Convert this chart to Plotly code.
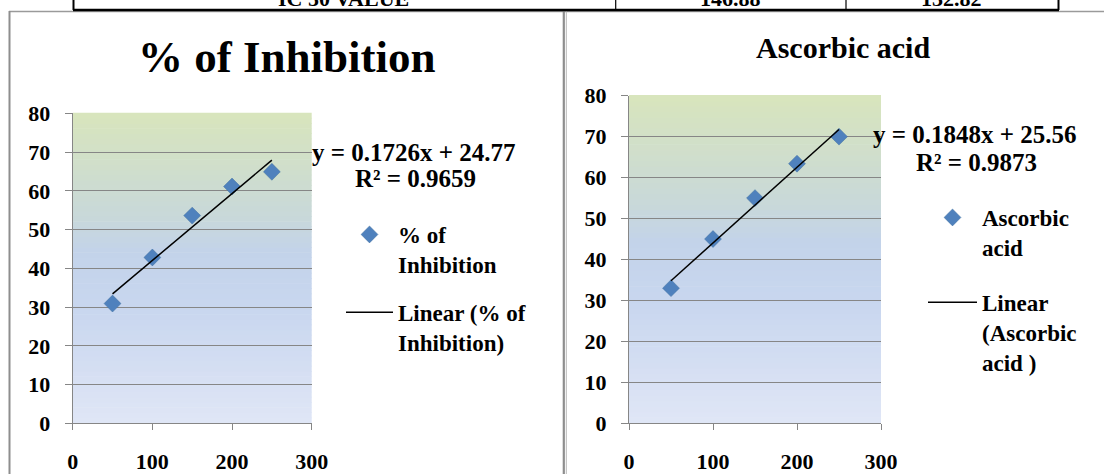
import plotly.graph_objects as go

W, H = 1104, 474

# ---------------- data ----------------
concentration = [50, 100, 150, 200, 250]
inhibition = [30.9, 42.8, 53.6, 61.1, 64.9]
ascorbic_acid = [33.0, 45.0, 55.0, 63.4, 70.0]

inh_slope, inh_intercept, inh_r2 = 0.1726, 24.77, 0.9659
asc_slope, asc_intercept, asc_r2 = 0.1848, 25.56, 0.9873

x_ticks = [0, 100, 200, 300]
y_ticks = [0, 10, 20, 30, 40, 50, 60, 70, 80]

table_labels = ["IC 50 VALUE", "146.88", "132.82"]

# ---------------- styling ----------------
SERIF = "Liberation Serif, Times New Roman, serif"
BLUE = "#4f81bd"
GRID = "#868686"


def px(x):
    return x / W


def py(y):
    return 1 - y / H


fig = go.Figure()

marker = dict(symbol="diamond", size=13, color=BLUE, line=dict(color="#41709f", width=0.5))

fig.add_trace(go.Scatter(
    x=concentration, y=inhibition, mode="markers", name="% of<br>Inhibition",
    marker=marker, xaxis="x", yaxis="y", legend="legend", legendgroup="a"))
fig.add_trace(go.Scatter(
    x=[concentration[0], concentration[-1]],
    y=[inh_slope * concentration[0] + inh_intercept, inh_slope * concentration[-1] + inh_intercept],
    mode="lines", name="Linear (% of<br>Inhibition)", line=dict(color="black", width=1.5),
    xaxis="x", yaxis="y", legend="legend", legendgroup="b"))

fig.add_trace(go.Scatter(
    x=concentration, y=ascorbic_acid, mode="markers", name="Ascorbic<br>acid",
    marker=marker, xaxis="x2", yaxis="y2", legend="legend2", legendgroup="c"))
fig.add_trace(go.Scatter(
    x=[concentration[0], concentration[-1]],
    y=[asc_slope * concentration[0] + asc_intercept, asc_slope * concentration[-1] + asc_intercept],
    mode="lines", name="Linear<br>(Ascorbic<br>acid )", line=dict(color="black", width=1.5),
    xaxis="x2", yaxis="y2", legend="legend2", legendgroup="d"))

tickfont = dict(family=SERIF, size=22, color="black", weight="bold")

axis_x = dict(range=[0, 300], tickvals=x_ticks, showgrid=False, zeroline=False, automargin=False,
              showline=True, linecolor=GRID, linewidth=1, ticks="outside", ticklen=6,
              tickcolor=GRID, tickfont=tickfont, ticklabelstandoff=12, fixedrange=True)
axis_y = dict(range=[0, 80], tickvals=y_ticks, showgrid=True, gridcolor=GRID, gridwidth=1,
              zeroline=False, showline=True, linecolor=GRID, linewidth=1, ticks="outside",
              automargin=False, ticklen=7, tickcolor=GRID, tickfont=tickfont,
              ticklabelstandoff=10, fixedrange=True)

legfont = dict(family=SERIF, size=23, color="black", weight="bold")

fig.update_layout(
    template="none",
    width=W, height=H, margin=dict(l=0, r=0, t=0, b=0, autoexpand=False),
    paper_bgcolor="white", plot_bgcolor="rgba(0,0,0,0)",
    xaxis=dict(axis_x, domain=[px(72.7), px(311.7)], anchor="y"),
    yaxis=dict(axis_y, domain=[py(423.3), py(113.3)], anchor="x"),
    xaxis2=dict(axis_x, domain=[px(629), px(881)], anchor="y2"),
    yaxis2=dict(axis_y, domain=[py(423.3), py(95.7)], anchor="x2"),
    legend=dict(x=px(341), y=py(213), xanchor="left", yanchor="top", font=legfont,
                bgcolor="rgba(0,0,0,0)", valign="top", tracegroupgap=15, itemwidth=47),
    legend2=dict(x=px(923), y=py(196), xanchor="left", yanchor="top", font=legfont,
                 bgcolor="rgba(0,0,0,0)", valign="top", tracegroupgap=22, itemwidth=49),
    showlegend=True,
)

# ---------------- gradient plot backgrounds ----------------
stops = [(0.0, (224, 230, 246)), (0.35, (201, 215, 239)), (0.55, (195, 211, 234)),
         (0.66, (200, 216, 218)), (1.0, (216, 229, 188))]


def grad(t):
    for (t0, c0), (t1, c1) in zip(stops[:-1], stops[1:]):
        if t0 <= t <= t1:
            f = (t - t0) / (t1 - t0)
            return "rgb(%d,%d,%d)" % tuple(round(a + (b - a) * f) for a, b in zip(c0, c1))
    return "rgb(%d,%d,%d)" % stops[-1][1]


N = 60
shapes = []
for xr, yr in (("x domain", "y domain"), ("x2 domain", "y2 domain")):
    for i in range(N):
        shapes.append(dict(type="rect", xref=xr, yref=yr, x0=0, x1=1, y0=i / N, y1=(i + 1) / N + 0.002,
                           fillcolor=grad((i + 0.5) / N), line=dict(width=0), layer="below"))


# ---------------- document frame (table row + chart boxes) ----------------
def line(x0, y0, x1, y1, color, width):
    shapes.append(dict(type="line", xref="paper", yref="paper", x0=px(x0), y0=py(y0),
                       x1=px(x1), y1=py(y1), line=dict(color=color, width=width)))


line(9, 11.5, 1104, 11.5, "#9a9a9a", 1.5)
line(9.5, 11, 9.5, 474, "#8e8e8e", 2)
line(563.8, 11, 563.8, 474, "#8e8e8e", 2.2)
line(566.3, 11, 566.3, 474, "#b8b8b8", 1)
line(73, 10, 1059, 10, "black", 2.5)
line(73.5, 0, 73.5, 10, "black", 2)
line(615.7, 0, 615.7, 10, "black", 1.2)
line(846, 0, 846, 10, "black", 1.2)
line(1058.5, 0, 1058.5, 10, "black", 2)

fig.update_layout(shapes=shapes)

# ---------------- text ----------------
ann = []
for label, cx in zip(table_labels, (343, 730, 951)):
    ann.append(dict(text=label, x=px(cx), y=py(12), xref="paper", yref="paper",
                    xanchor="center", yanchor="bottom", showarrow=False, borderpad=0,
                    font=dict(family=SERIF, size=22, color="black", weight="bold")))

ann.append(dict(text="% of Inhibition", x=px(287), y=py(57), xref="paper", yref="paper",
                xanchor="center", yanchor="middle", showarrow=False,
                font=dict(family=SERIF, size=45, color="black", weight="bold")))
ann.append(dict(text="Ascorbic acid", x=px(843), y=py(48), xref="paper", yref="paper",
                xanchor="center", yanchor="middle", showarrow=False,
                font=dict(family=SERIF, size=30, color="black", weight="bold")))

eqfont = dict(family=SERIF, size=25, color="black", weight="bold")
ann.append(dict(text="y = %.4fx + %.2f" % (inh_slope, inh_intercept), x=px(414), y=py(152),
                xref="paper", yref="paper", xanchor="center", yanchor="middle", showarrow=False, font=eqfont))
ann.append(dict(text="R² = %.4f" % inh_r2, x=px(415), y=py(178),
                xref="paper", yref="paper", xanchor="center", yanchor="middle", showarrow=False, font=eqfont))
ann.append(dict(text="y = %.4fx + %.2f" % (asc_slope, asc_intercept), x=px(975), y=py(135),
                xref="paper", yref="paper", xanchor="center", yanchor="middle", showarrow=False, font=eqfont))
ann.append(dict(text="R² = %.4f" % asc_r2, x=px(976), y=py(162),
                xref="paper", yref="paper", xanchor="center", yanchor="middle", showarrow=False, font=eqfont))

fig.update_layout(annotations=ann)

fig.write_html("out.html", config={"displayModeBar": False, "staticPlot": True},
               post_script="document.body.style.margin='0';document.body.style.overflow='hidden';")
